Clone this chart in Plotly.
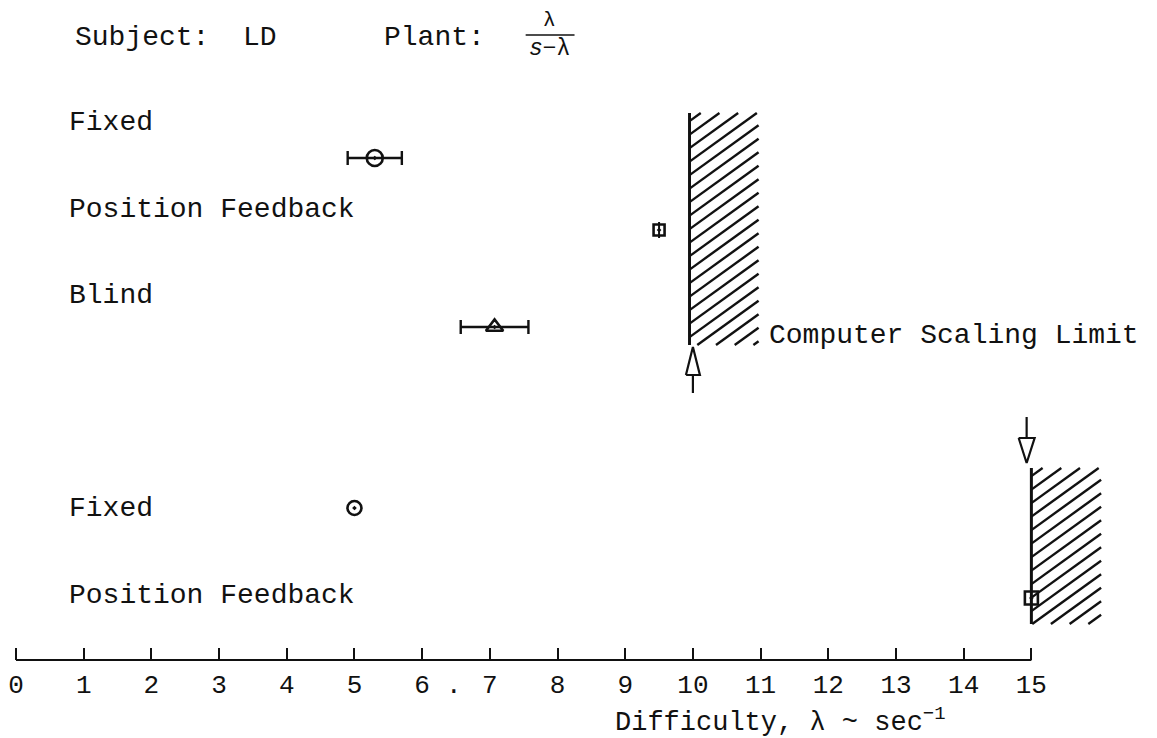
import plotly.graph_objects as go

# ---------------- data ----------------
row_labels = ["Fixed", "Position Feedback", "Blind", "Fixed", "Position Feedback"]
label_rows = [122, 210, 295, 508, 595]          # vertical row positions of the labels
point_x = [5.3, 9.5, 7.07, 5.0, 15.0]           # difficulty lambda (sec^-1)
point_xerr = [0.4, 0.0, 0.5, 0.0, 0.0]          # half range of error bars
point_yerr = [0, 8, 0, 0, 0]                    # small vertical whiskers
point_rows = [158, 230, 327, 508, 598]          # vertical row positions of the points
point_symbols = ["circle-open-dot", "square-open-dot", "triangle-up-open-dot",
                 "circle-open-dot", "square-open-dot"]
point_sizes = [16, 11, 15, 14, 13]

limit_x = [9.95, 15.0]                          # computer scaling limits
limit_width = [1.02, 1.03]
limit_rows = [(113, 345), (468, 624)]
limit_label = "Computer Scaling Limit"

tick_vals = list(range(16))
tick_text = [str(v) for v in tick_vals]
axis_title = "Difficulty, \u03bb ~ sec<sup>\u22121</sup>"

# ---------------- layout helpers ----------------
OFF = 8                      # page body margin of the html page
FW, FH = 1157 - OFF, 738 - OFF
X0_PX, PX_PER_UNIT = 13.0, 67.87
AXIS_Y = 660
FONT = "Liberation Mono"
INK = "#111111"
HATCH_SLOPE = 0.72           # rise per run of the hatch strokes (pixels)
HATCH_GAP = 13.5             # vertical spacing of the hatch strokes (pixels)


def dx(px):
    return px / PX_PER_UNIT


def xpx(px):
    return (px - X0_PX) / PX_PER_UNIT


def to_px(x):
    return X0_PX + x * PX_PER_UNIT


def pxp(p):
    return (p - OFF) / FW


def pyp(p):
    return 1 - (p - OFF) / FH


fig = go.Figure()

# hatched limit regions
for lx, lw, (y0, y1) in zip(limit_x, limit_width, limit_rows):
    left, right = to_px(lx), to_px(lx + lw)
    w = right - left
    hx, hy = [], []
    c = y0 + HATCH_GAP * 0.6
    while c < y1 + HATCH_SLOPE * w:
        # stroke: y = c - slope * (x - left), clipped to the rectangle
        xa = left + max(0.0, (c - y1) / HATCH_SLOPE)
        xb = left + min(w, (c - y0) / HATCH_SLOPE)
        if xb > xa + 1:
            hx += [xpx(xa), xpx(xb), None]
            hy += [c - HATCH_SLOPE * (xa - left), c - HATCH_SLOPE * (xb - left), None]
        c += HATCH_GAP
    fig.add_trace(go.Scatter(x=hx, y=hy, mode="lines",
                             line=dict(color=INK, width=2.4),
                             hoverinfo="skip", showlegend=False))
    fig.add_trace(go.Scatter(
        x=[lx, lx], y=[y0, y1], mode="lines",
        line=dict(color=INK, width=3), hoverinfo="skip", showlegend=False))

# arrows pointing at the limits
up_x = 10.0
hw = dx(7)
fig.add_trace(go.Scatter(
    x=[up_x - hw, up_x, up_x + hw, up_x - hw, None, up_x, up_x],
    y=[375, 347, 375, 375, None, 375, 393],
    mode="lines", line=dict(color=INK, width=2.2), hoverinfo="skip", showlegend=False))
dn_x = limit_x[1] - 0.07
hw2 = dx(8)
fig.add_trace(go.Scatter(
    x=[dn_x, dn_x, None, dn_x - hw2, dn_x, dn_x + hw2, dn_x - hw2],
    y=[417, 438, None, 438, 463, 438, 438],
    mode="lines", line=dict(color=INK, width=2.2), hoverinfo="skip", showlegend=False))

# data points
for x, xe, ye, r, sym, sz in zip(point_x, point_xerr, point_yerr, point_rows,
                                 point_symbols, point_sizes):
    kw = {}
    if xe > 0:
        kw["error_x"] = dict(type="data", array=[xe], color=INK, thickness=2.4, width=7)
    if ye > 0:
        kw["error_y"] = dict(type="data", array=[ye], color=INK, thickness=2, width=0)
    fig.add_trace(go.Scatter(
        x=[x], y=[r], mode="markers",
        marker=dict(symbol=sym, size=sz, color=INK, line=dict(width=2.6, color=INK)),
        showlegend=False, **kw))

# axis baseline from 0 to 15
fig.add_trace(go.Scatter(
    x=[tick_vals[0], tick_vals[-1]], y=[AXIS_Y, AXIS_Y], mode="lines",
    line=dict(color=INK, width=2), hoverinfo="skip", showlegend=False))


def note(px, py, text, size=28, anchor="left", family=FONT):
    return dict(x=pxp(px), y=pyp(py), xref="paper", yref="paper", text=text,
                showarrow=False, xanchor=anchor, yanchor="middle",
                font=dict(family=family, size=size, color=INK))


annotations = [note(64, r, lab) for lab, r in zip(row_labels, label_rows)]
annotations += [
    note(766, 335, limit_label),
    note(70, 38, "Subject:  LD"),
    note(380, 38, "Plant:"),
    note(548, 21, "\u03bb", size=21, anchor="center"),
    note(548, 49, "<i>s</i>\u2212\u03bb", size=23, anchor="center"),
    note(612, 720, axis_title, size=27),
    note(452, 686, ".", size=26, anchor="center"),
]

shapes = [dict(type="line", xref="paper", yref="paper", x0=pxp(524), x1=pxp(573),
               y0=pyp(35), y1=pyp(35), line=dict(color=INK, width=1.5))]

fig.update_layout(
    width=FW, height=FH, margin=dict(l=0, r=0, t=0, b=0),
    paper_bgcolor="white", plot_bgcolor="white",
    annotations=annotations, shapes=shapes, showlegend=False,
    xaxis=dict(range=[xpx(OFF), xpx(OFF + FW)], anchor="free", position=pyp(AXIS_Y),
               showgrid=False, zeroline=False, showline=False,
               tickmode="array", tickvals=tick_vals, ticktext=tick_text,
               ticks="inside", ticklen=12, tickwidth=2, tickcolor=INK,
               ticklabelstandoff=6, ticklabeloverflow="allow",
               tickfont=dict(family=FONT, size=26, color=INK)),
    yaxis=dict(range=[OFF + FH, OFF], visible=False, showgrid=False, zeroline=False),
)

fig.write_html("out.html")
